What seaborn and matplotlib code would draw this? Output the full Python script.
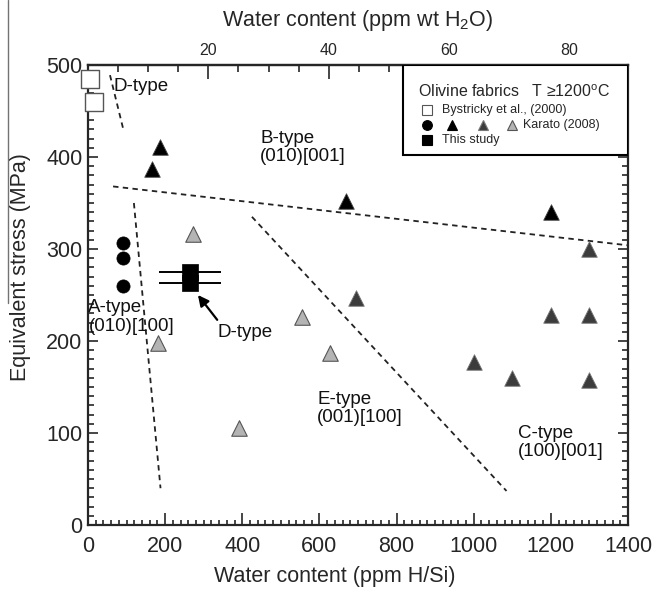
import pandas as pd
import matplotlib
matplotlib.use('Agg')
import matplotlib.pyplot as plt
from matplotlib.ticker import MultipleLocator, FixedLocator
from matplotlib.patches import Rectangle
from matplotlib.lines import Line2D
import seaborn as sns

# ppm H/Si per ppm wt H2O
HSI_PER_WT = 15.6

# Bystricky et al. (2000), open squares
bystricky_x = [5, 15]
bystricky_y = [485, 460]

# Karato (2008): A-type (circles), B-type (black), C-type (dark grey), E-type (light grey)
karato_a_x = [90, 90, 90]
karato_a_y = [307, 290, 260]
karato_b_x = [165, 187, 670, 1200]
karato_b_y = [387, 411, 352, 340]
karato_c_x = [695, 1000, 1100, 1200, 1300, 1300, 1300]
karato_c_y = [247, 177, 160, 228, 228, 158, 300]
karato_e_x = [181, 272, 391, 555, 627]
karato_e_y = [198, 316, 105, 226, 187]

# This study
study_x = [265, 265]
study_y = [275, 263]
study_xerr = [80, 80]

# fabric boundaries (dashed)
boundaries = {
    'D-A': ([57, 91], [489, 431]),
    'B': ([65, 1400], [368, 304]),
    'A-E': ([119, 188], [350, 40]),
    'E-C': ([425, 1085], [335, 37]),
}

# fabric labels: (x, y, text)
fabric_labels = [
    (65, 477, 'D-type'),
    (446, 410, 'B-type\n(010)[001]'),
    (1, 226, 'A-type\n(010)[100]'),
    (335, 209, 'D-type'),
    (594, 127, 'E-type\n(001)[100]'),
    (1115, 90, 'C-type\n(100)[001]'),
]

sns.set_style('ticks')
plt.rcParams['font.family'] = ['Liberation Sans', 'DejaVu Sans']
plt.rcParams['mathtext.fontset'] = 'custom'
plt.rcParams['mathtext.rm'] = 'Liberation Sans'

fig = plt.figure(figsize=(6.54, 5.94), dpi=100)
ax = fig.add_axes([88 / 654, 69 / 594, 540 / 654, 460 / 594])

# boundaries
for name, (bx, by) in boundaries.items():
    sns.lineplot(x=bx, y=by, ax=ax, color='#222222', lw=1.3, sort=False,
                 estimator=None, linestyle=(0, (3.0, 2.4)))

# data points
sns.scatterplot(x=bystricky_x, y=bystricky_y, ax=ax, marker='s', s=150,
                facecolor='white', edgecolor='#555555', linewidth=1.0,
                clip_on=False, zorder=5)
sns.scatterplot(x=karato_a_x, y=karato_a_y, ax=ax, marker='o', s=90,
                color='black', edgecolor='black', linewidth=0.5, zorder=5)
sns.scatterplot(x=karato_b_x, y=karato_b_y, ax=ax, marker='^', s=125,
                color='black', edgecolor='#444444', linewidth=0.6, zorder=5)
sns.scatterplot(x=karato_c_x, y=karato_c_y, ax=ax, marker='^', s=125,
                color='#3c3c3c', edgecolor='#777777', linewidth=0.6, zorder=5)
sns.scatterplot(x=karato_e_x, y=karato_e_y, ax=ax, marker='^', s=125,
                color='#b4b4b4', edgecolor='#555555', linewidth=0.8, zorder=5)

ax.errorbar(study_x, study_y, xerr=study_xerr, fmt='none', ecolor='black',
            elinewidth=1.4, capsize=0, zorder=4)
sns.scatterplot(x=study_x, y=study_y, ax=ax, marker='s', s=130,
                color='black', edgecolor='black', linewidth=0.5, zorder=6)

# labels on the plot
for tx, ty, txt in fabric_labels:
    ax.text(tx, ty, txt, fontsize=13.5, ha='left', va='center',
            linespacing=1.1, color='#111111')
ax.annotate('', xy=(285, 250), xytext=(335, 223),
            arrowprops=dict(arrowstyle='-|>', color='black', lw=1.6,
                            mutation_scale=16, shrinkA=0, shrinkB=0))

# axes
ax.set_xlim(0, 1400)
ax.set_ylim(0, 500)
ax.xaxis.set_major_locator(MultipleLocator(200))
ax.xaxis.set_minor_locator(MultipleLocator(20))
ax.yaxis.set_major_locator(MultipleLocator(100))
ax.yaxis.set_minor_locator(MultipleLocator(10))
ax.tick_params(axis='x', which='both', direction='in', top=False,
               labelsize=15.5, pad=8, width=1.2)
ax.tick_params(axis='x', which='major', length=9)
ax.tick_params(axis='x', which='minor', length=3.6)
ax.tick_params(axis='y', which='both', direction='in', right=True,
               labelsize=15.5, pad=4, width=1.2)
ax.tick_params(axis='y', which='major', length=7)
ax.tick_params(axis='y', which='minor', length=4.3)
for sp in ax.spines.values():
    sp.set_linewidth(1.6)

ax.set_xlabel('Water content (ppm H/Si)', fontsize=15.5)
ax.xaxis.set_label_coords(0.457, -0.09)
ax.set_ylabel('Equivalent stress (MPa)', fontsize=15.5)
ax.yaxis.set_label_coords(-0.105, 0.56)

top = ax.secondary_xaxis('top', functions=(lambda h: h / HSI_PER_WT,
                                           lambda w: w * HSI_PER_WT))
top.xaxis.set_major_locator(FixedLocator([20, 40, 60, 80]))
top.xaxis.set_minor_locator(FixedLocator([5, 10, 15, 25, 30, 35, 45, 50, 55,
                                          65, 70, 75, 85]))
top.tick_params(axis='x', which='both', direction='in', labelsize=11.5,
                pad=5, width=1.2)
top.tick_params(axis='x', which='major', length=10)
top.tick_params(axis='x', which='minor', length=5)
top.spines['top'].set_linewidth(1.6)
top.set_xlabel('Water content (ppm wt H$_2$O)', fontsize=15.5, labelpad=12)

# legend box
ax.add_patch(Rectangle((0.583, 0.804), 0.417, 0.196, transform=ax.transAxes,
                       fill=True, facecolor='white', edgecolor='black',
                       lw=1.5, zorder=7))
ax.text(0.611, 0.941, 'Olivine fabrics   T \u22651200$^{\\rm o}$C',
        transform=ax.transAxes, fontsize=11.5, va='center', zorder=8)
legend_rows = [
    (0.902, [(0.628, 's', 'white', '#555555')], 0.656, 'Bystricky et al., (2000)'),
    (0.870, [(0.628, 'o', 'black', 'black'), (0.674, '^', 'black', 'black'),
             (0.731, '^', '#3c3c3c', '#777777'), (0.785, '^', '#b4b4b4', '#555555')],
     0.806, 'Karato (2008)'),
    (0.837, [(0.628, 's', 'black', 'black')], 0.656, 'This study'),
]
for ry, marks, tx, txt in legend_rows:
    for mx, mk, fc, ec in marks:
        ax.add_line(Line2D([mx], [ry], transform=ax.transAxes, marker=mk,
                           ms=7, mfc=fc, mec=ec, mew=0.8, ls='none', zorder=8))
    ax.text(tx, ry, txt, transform=ax.transAxes, fontsize=9, va='center',
            zorder=8)

# scan artefact at the left edge
fig.add_artist(Line2D([8 / 654, 8 / 654], [1, 1 - 303 / 594], color='0.45', lw=1))

fig.savefig('out.png', dpi=100)
